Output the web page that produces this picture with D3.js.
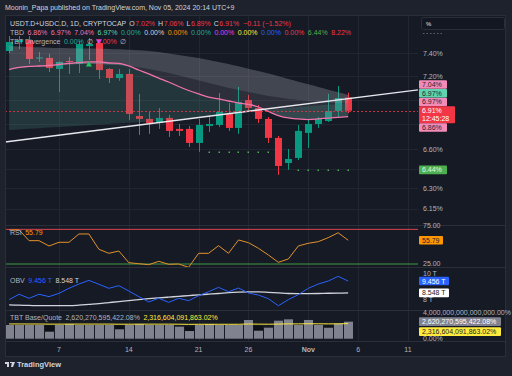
<!DOCTYPE html>
<html>
<head>
<meta charset="utf-8">
<script src="https://cdn.jsdelivr.net/npm/d3@7"></script>
<style>
  html, body { margin: 0; padding: 0; background: #1e222d; }
  svg { display: block; font-family: "Liberation Sans", Arial, sans-serif; }
</style>
</head>
<body>
<svg id="chart" width="512" height="376"></svg>
<script>
// ---- data ----
const dates = ['2024-10-02','2024-10-03','2024-10-04','2024-10-05','2024-10-06','2024-10-07','2024-10-08',
  '2024-10-09','2024-10-10','2024-10-11','2024-10-12','2024-10-13','2024-10-14','2024-10-15','2024-10-16',
  '2024-10-17','2024-10-18','2024-10-19','2024-10-20','2024-10-21','2024-10-22','2024-10-23','2024-10-24',
  '2024-10-25','2024-10-26','2024-10-27','2024-10-28','2024-10-29','2024-10-30','2024-10-31','2024-11-01',
  '2024-11-02','2024-11-03','2024-11-04','2024-11-05'];

const open  = [7.420,7.500,7.518,7.355,7.359,7.263,7.332,7.306,7.464,7.491,7.263,7.185,7.220,6.867,6.843,6.810,6.851,6.762,6.762,6.650,6.786,6.794,6.884,6.770,6.999,6.933,6.843,6.690,6.493,6.532,6.730,6.802,6.826,6.908,7.02];
const high  = [7.554,7.554,7.554,7.411,7.394,7.328,7.367,7.509,7.536,7.518,7.271,7.263,7.263,7.050,6.900,6.933,6.875,6.802,6.786,6.843,6.867,7.058,6.974,7.109,7.041,6.958,6.859,6.706,6.602,6.794,6.843,6.859,7.050,7.117,7.06];
const low   = [7.403,7.438,7.306,7.324,7.237,7.066,7.220,7.228,7.341,7.177,7.143,7.160,6.835,6.714,6.722,6.762,6.698,6.706,6.618,6.579,6.738,6.778,6.746,6.722,6.916,6.810,6.650,6.401,6.440,6.516,6.610,6.770,6.818,6.851,6.89];
const close = [7.500,7.518,7.350,7.363,7.271,7.324,7.324,7.482,7.482,7.254,7.185,7.220,6.884,6.843,6.810,6.851,6.746,6.746,6.650,6.794,6.802,6.900,6.770,6.983,6.933,6.843,6.690,6.470,6.524,6.746,6.802,6.843,6.908,7.016,6.91];

// indicator overlay (TBD)
const basis     = [7.258,7.276,7.285,7.289,7.293,7.302,7.311,7.319,7.324,7.324,7.315,7.311,7.289,7.254,7.220,7.185,7.151,7.113,7.079,7.050,7.024,7.008,6.991,6.974,6.962,6.941,6.904,6.871,6.851,6.843,6.838,6.843,6.850,6.856,6.862];
const cloudTop  = [7.465,7.460,7.456,7.453,7.450,7.447,7.445,7.443,7.442,7.440,7.438,7.435,7.432,7.427,7.420,7.411,7.398,7.385,7.372,7.359,7.341,7.324,7.306,7.286,7.266,7.245,7.223,7.200,7.177,7.154,7.132,7.109,7.086,7.064,7.041];
const cloudBot  = [7.254,7.271,7.280,7.285,7.289,7.297,7.302,7.306,7.306,7.306,7.302,7.297,7.289,7.276,7.263,7.245,7.228,7.207,7.185,7.164,7.143,7.121,7.100,7.083,7.066,7.050,7.033,7.020,7.008,6.999,6.991,6.983,6.977,6.973,6.970];
const tealLine  = [6.754,6.758,6.763,6.768,6.773,6.778,6.782,6.787,6.792,6.797,6.802,6.807,6.812,6.817,6.821,6.826,6.834,6.840,6.848,6.855,6.864,6.873,6.882,6.891,6.900,6.908,6.916,6.925,6.933,6.941,6.947,6.953,6.959,6.964,6.970];

const trendDates = ['2024-10-02', '2024-11-05'];
const trendVals  = [6.662, 7.010];
const supportA = { days: ['2024-10-22','2024-10-23','2024-10-24','2024-10-25','2024-10-26','2024-10-27','2024-10-28'], value: 6.58 };
const supportB = { days: ['2024-10-31','2024-11-01','2024-11-02','2024-11-03','2024-11-04','2024-11-05'], value: 6.44 };
const markUp   = { day: '2024-10-10', value: 7.30 };
const markDown = { day: '2024-10-11', value: 7.51 };

const rsi    = [69.2,69.2,55.3,55.3,48.4,53.2,53.2,64.0,64.0,44.1,38.9,41.9,26.7,25.4,24.1,28.5,24.6,25.0,20.7,38.9,38.9,48.8,38.9,56.2,52.7,45.4,36.7,27.2,31.5,48.4,51.9,54.0,59.2,65.6,55.79];
const obv    = [8.03,8.44,8.13,8.44,8.26,8.51,8.90,9.23,9.51,9.21,8.90,9.10,8.69,8.26,7.85,8.13,7.82,8.13,7.95,8.33,8.64,8.97,8.64,8.92,8.54,8.38,8.10,7.56,8.03,8.41,8.90,9.23,9.46,9.82,9.456];
const obvMa  = [7.62,7.60,7.58,7.56,7.56,7.56,7.56,7.60,7.66,7.72,7.80,7.88,7.95,8.03,8.10,8.16,8.22,8.28,8.34,8.40,8.45,8.50,8.56,8.60,8.62,8.62,8.59,8.55,8.50,8.49,8.49,8.50,8.52,8.53,8.548];

// TBT Base/Quote panel (scaled units)
const baseBars  = [2.11,2.11,2.11,2.11,1.08,2.11,2.26,2.11,2.11,2.11,2.11,1.45,2.11,2.26,2.11,2.11,2.11,1.85,1.18,2.11,2.26,2.11,2.11,2.11,2.88,1.23,1.69,2.77,2.98,2.11,2.88,2.11,1.69,2.30,2.62];
const quoteBars = [0,0,0,0,2.00,0,0,0,0,0,0,2.00,0,0,0,0,0,0,1.85,0,0,0,0,0,0,1.95,0,0,0,0,0,0,1.95,0,0];
const quoteLine = [2.27,2.27,2.26,2.26,2.24,2.24,2.25,2.25,2.25,2.25,2.25,2.23,2.23,2.24,2.24,2.24,2.24,2.23,2.21,2.22,2.22,2.22,2.22,2.22,2.26,2.24,2.23,2.25,2.28,2.28,2.30,2.29,2.28,2.29,2.32];

const priceTicks = [7.40, 7.20, 7.00, 6.80, 6.60, 6.45, 6.30, 6.15];
const rsiTicks   = [75, 50, 25];
const obvTicks   = [10, 8];
const volTicks   = [[4, '4,000,000,000,000,000.00%'], [0, '0.00%']];
const timeTicks  = [['2024-10-07','7'],['2024-10-14','14'],['2024-10-21','21'],['2024-10-26','26'],
                    ['2024-11-01','Nov'],['2024-11-06','6'],['2024-11-11','11']];

// ---- layout ----
const svg = d3.select('#chart');
const plotL = 5, plotR = 418, frameR = 506;
const P = { main: [15, 225], rsi: [225, 267], obv: [267, 310], vol: [310, 341] };
const axisBottom = 357;

const C = {
  bg: '#161a25', grid: '#222633', sep: '#2a2e39', text: '#b2b5be', bright: '#d1d4dc',
  up: '#089981', down: '#f23645', pink: '#f173ac', teal: '#5fd3b0'
};

const parse = d3.utcParse('%Y-%m-%d');
const D = dates.map(parse);
const idx = d3.range(dates.length);

const x = d3.scaleUtc()
  .domain([parse('2024-10-07'), parse('2024-11-11')])
  .range([59, 408]);
const y = d3.scaleLog().domain([6.15, 7.40]).range([208.5, 53.3]);
const yR = d3.scaleLinear().domain([25, 75]).range([264, 225.5]);
const yO = d3.scaleLinear().domain([8, 10]).range([300, 274]);
const yV = d3.scaleLinear().domain([0, 4]).range([338.7, 312.7]);

// chart background
svg.append('rect').attr('x', plotL).attr('y', 15).attr('width', frameR - plotL).attr('height', axisBottom - 15)
  .attr('fill', C.bg);

// clip paths per panel
Object.entries(P).forEach(([k, [t, b]]) => {
  svg.append('clipPath').attr('id', 'clip-' + k)
    .append('rect').attr('x', plotL).attr('y', t).attr('width', plotR - plotL).attr('height', b - t);
});

// vertical grid
svg.append('g').selectAll('line').data(timeTicks).join('line')
  .attr('x1', d => Math.round(x(parse(d[0]))) + 0.5).attr('x2', d => Math.round(x(parse(d[0]))) + 0.5)
  .attr('y1', 15).attr('y2', P.vol[1])
  .attr('stroke', C.grid);

// horizontal grid, main
svg.append('g').selectAll('line').data(priceTicks).join('line')
  .attr('x1', plotL).attr('x2', plotR)
  .attr('y1', d => Math.round(y(d)) + 0.5).attr('y2', d => Math.round(y(d)) + 0.5)
  .attr('stroke', C.grid);

// ---- main panel ----
const main = svg.append('g').attr('clip-path', 'url(#clip-main)');
const bw = 7;
const colorOf = i => close[i] >= open[i] ? C.up : C.down;

main.append('g').selectAll('line').data(idx).join('line')
  .attr('x1', i => Math.round(x(D[i])) + 0.5).attr('x2', i => Math.round(x(D[i])) + 0.5)
  .attr('y1', i => y(high[i])).attr('y2', i => y(low[i]))
  .attr('stroke', colorOf);

main.append('g').selectAll('rect').data(idx).join('rect')
  .attr('x', i => Math.round(x(D[i])) - 3)
  .attr('width', bw)
  .attr('y', i => Math.min(y(open[i]), y(close[i])))
  .attr('height', i => Math.max(1, Math.abs(y(open[i]) - y(close[i]))))
  .attr('fill', colorOf);

// cloud fills drawn over candles
const band = (a, b) => d3.area().curve(d3.curveMonotoneX)
  .x(i => x(D[i])).y0(i => y(a[i])).y1(i => y(b[i]));
main.append('path').datum(idx).attr('d', band(cloudBot, cloudTop))
  .attr('fill', '#a3a6ae').attr('fill-opacity', 0.32);
main.append('path').datum(idx).attr('d', band(basis, cloudBot))
  .attr('fill', '#8a8d96').attr('fill-opacity', 0.2);
main.append('path').datum(idx).attr('d', band(tealLine, basis))
  .attr('fill', '#4a8a84').attr('fill-opacity', 0.25);

main.append('path').datum(idx)
  .attr('d', d3.line().curve(d3.curveMonotoneX).x(i => x(D[i])).y(i => y(basis[i])))
  .attr('fill', 'none').attr('stroke', C.pink).attr('stroke-width', 1.3);

// trend line, extended to both edges
{
  const x1 = x(parse(trendDates[0])), y1 = y(trendVals[0]);
  const x2 = x(parse(trendDates[1])), y2 = y(trendVals[1]);
  const k = (y2 - y1) / (x2 - x1);
  main.append('line')
    .attr('x1', plotL).attr('y1', y1 + k * (plotL - x1))
    .attr('x2', plotR).attr('y2', y1 + k * (plotR - x1))
    .attr('stroke', '#e6e8ee').attr('stroke-width', 1.4);
}

// last price line
const last = close.length - 1;
main.append('line')
  .attr('x1', plotL).attr('x2', plotR)
  .attr('y1', Math.round(y(close[last])) + 0.5).attr('y2', Math.round(y(close[last])) + 0.5)
  .attr('stroke', C.down).attr('stroke-opacity', 0.8).attr('stroke-dasharray', '2,2');

// support dots
[supportA, supportB].forEach(s => {
  main.append('g').selectAll('rect').data(s.days).join('rect')
    .attr('x', d => Math.round(x(parse(d))) - 0.5).attr('y', Math.round(y(s.value)) - 0.5)
    .attr('width', 1.5).attr('height', 1.5).attr('fill', '#4caf50');
});

// divergence markers
main.append('path')
  .attr('d', d3.symbol(d3.symbolTriangle).size(16)())
  .attr('transform', `translate(${x(parse(markUp.day))},${y(markUp.value)})`)
  .attr('fill', '#22c55e');
main.append('path')
  .attr('d', d3.symbol(d3.symbolTriangle).size(16)())
  .attr('transform', `translate(${x(parse(markDown.day))},${y(markDown.value)}) rotate(180)`)
  .attr('fill', '#d64ae8');

// ---- RSI panel ----
const rsiG = svg.append('g').attr('clip-path', 'url(#clip-rsi)');
rsiG.append('line').attr('x1', plotL).attr('x2', plotR)
  .attr('y1', yR(70)).attr('y2', yR(70)).attr('stroke', '#d84452');
rsiG.append('line').attr('x1', plotL).attr('x2', plotR)
  .attr('y1', yR(25)).attr('y2', yR(25)).attr('stroke', '#3f9b45');
rsiG.append('path').datum(idx)
  .attr('d', d3.line().x(i => x(D[i])).y(i => yR(rsi[i])))
  .attr('fill', 'none').attr('stroke', '#e3922a').attr('stroke-width', 1);

// ---- OBV panel ----
const obvG = svg.append('g').attr('clip-path', 'url(#clip-obv)');
obvG.append('path').datum(idx)
  .attr('d', d3.line().curve(d3.curveMonotoneX).x(i => x(D[i])).y(i => yO(obvMa[i])))
  .attr('fill', 'none').attr('stroke', '#d1d4dc').attr('stroke-width', 1.3);
obvG.append('path').datum(idx)
  .attr('d', d3.line().x(i => x(D[i])).y(i => yO(obv[i])))
  .attr('fill', 'none').attr('stroke', '#2962ff').attr('stroke-width', 1);

// ---- Base/Quote panel ----
const volG = svg.append('g').attr('clip-path', 'url(#clip-vol)');
const barW = 9;
volG.append('g').selectAll('rect').data(idx.filter(i => quoteBars[i] > 0)).join('rect')
  .attr('x', i => Math.round(x(D[i])) - 4).attr('width', barW)
  .attr('y', i => yV(quoteBars[i])).attr('height', i => yV(0) - yV(quoteBars[i]))
  .attr('fill', '#0e1016');
volG.append('g').selectAll('rect').data(idx).join('rect')
  .attr('x', i => Math.round(x(D[i])) - 4).attr('width', barW)
  .attr('y', i => yV(baseBars[i])).attr('height', i => yV(0) - yV(baseBars[i]))
  .attr('fill', '#80838f');
volG.append('path').datum(idx)
  .attr('d', d3.line().x(i => x(D[i])).y(i => yV(quoteLine[i])))
  .attr('fill', 'none').attr('stroke', '#ffeb3b').attr('stroke-width', 1);

// panel separators
[P.main[1], P.rsi[1], P.obv[1], P.vol[1]].forEach(v => {
  svg.append('line').attr('x1', plotL).attr('x2', frameR)
    .attr('y1', v + 0.5).attr('y2', v + 0.5).attr('stroke', C.sep);
});
svg.append('rect').attr('x', plotL + 0.5).attr('y', 15.5)
  .attr('width', frameR - plotL - 1).attr('height', axisBottom - 16)
  .attr('fill', 'none').attr('stroke', C.sep);

// ---- value tags on the price scale (positions first, so ticks under them are hidden) ----
const cLast = y(close[last]);
const tags = [
  { cy: cLast - 8.8,        txt: cloudBot[last].toFixed(2) + '%', bg: '#f38bb8', fg: '#2a1f28', w: 28 },
  { cy: cLast - 17.5,       txt: tealLine[last].toFixed(2) + '%', bg: C.teal, fg: '#12302a', w: 28 },
  { cy: cLast - 26.2,       txt: cloudTop[last].toFixed(2) + '%', bg: '#f38bb8', fg: '#2a1f28', w: 28 },
  { cy: cLast,              txt: close[last].toFixed(2) + '%', bg: C.down, fg: '#ffffff', w: 36, sub: '12:45:28' },
  { cy: cLast + 16.8,       txt: basis[last].toFixed(2) + '%', bg: '#f38bb8', fg: '#2a1f28', w: 28 },
  { cy: y(supportB.value),  txt: supportB.value.toFixed(2) + '%', bg: '#4caf50', fg: '#e8f5e9', w: 28 },
  { cy: yR(rsi[last]),      txt: rsi[last].toFixed(2), bg: '#ff9800', fg: '#1e222d', w: 24 },
  { cy: yO(obv[last]),      txt: obv[last].toFixed(3) + ' T', bg: '#2962ff', fg: '#ffffff', w: 30 },
  { cy: yO(obvMa[last]),    txt: obvMa[last].toFixed(3) + ' T', bg: '#ffffff', fg: '#1e222d', w: 30 },
  { cy: yV(baseBars[last]), txt: '2,620,270,595,422.08%', bg: '#80838f', fg: '#ffffff', w: 82 },
  { cy: yV(baseBars[last]) + 10, txt: '2,316,604,091,863.02%', bg: '#ffeb3b', fg: '#1e222d', w: 82 }
];
tags.forEach(t => {
  t.h = t.sub ? 17 : 8.6;
  t.top = t.sub ? t.cy - 4.5 : t.cy - t.h / 2;
});
const hidden = yy => tags.some(t => yy >= t.top - 2 && yy <= t.top + t.h + 2);

// ---- axis tick labels ----
const axisText = (yy, txt) => {
  if (hidden(yy)) return;
  svg.append('text')
    .attr('x', 423).attr('y', yy).attr('dy', '0.35em')
    .attr('fill', C.text).attr('font-size', 7).text(txt);
};
priceTicks.forEach(v => axisText(y(v), v.toFixed(2) + '%'));
rsiTicks.forEach(v => axisText(yR(v), v.toFixed(2)));
obvTicks.forEach(v => axisText(yO(v), v + ' T'));
volTicks.forEach(([v, t]) => axisText(yV(v), t));

svg.append('g').selectAll('text').data(timeTicks).join('text')
  .attr('x', d => x(parse(d[0]))).attr('y', 350).attr('dy', '0.35em')
  .attr('text-anchor', 'middle').attr('fill', C.text).attr('font-size', 7)
  .attr('font-weight', d => d[1] === 'Nov' ? 'bold' : null)
  .text(d => d[1]);

tags.forEach(t => {
  svg.append('rect').attr('x', 419).attr('y', t.top).attr('width', t.w).attr('height', t.h)
    .attr('rx', 1).attr('fill', t.bg);
  svg.append('text').attr('x', 422).attr('y', t.cy).attr('dy', '0.35em')
    .attr('fill', t.fg).attr('font-size', 7).text(t.txt);
  if (t.sub) svg.append('text').attr('x', 422).attr('y', t.cy + 8).attr('dy', '0.35em')
    .attr('fill', t.fg).attr('font-size', 7).text(t.sub);
});

// "%" button in the price scale corner
svg.append('rect').attr('x', 421.5).attr('y', 17.5).attr('width', 83).attr('height', 12)
  .attr('rx', 2).attr('fill', '#131722').attr('stroke', '#2a2e39');
svg.append('text').attr('x', 426).attr('y', 23.5).attr('dy', '0.35em')
  .attr('fill', C.text).attr('font-size', 6).attr('font-weight', 'bold').text('%');
svg.append('line').attr('x1', 423).attr('x2', 443).attr('y1', 33.5).attr('y2', 33.5)
  .attr('stroke', '#5d606b').attr('stroke-dasharray', '1.5,2');

// ---- legends ----
function legendRow(yy, items, x0 = 10) {
  let cx = x0;
  items.forEach(([txt, col, gap]) => {
    const t = svg.append('text').attr('x', cx).attr('y', yy).attr('dy', '0.35em')
      .attr('fill', col).attr('font-size', 7).text(txt);
    cx += t.node().getComputedTextLength() + (gap === undefined ? 3.5 : gap);
  });
}
svg.append('text').attr('x', 5).attr('y', 8).attr('dy', '0.35em')
  .attr('fill', C.bright).attr('font-size', 7)
  .text('Moonin_Papa published on TradingView.com, Nov 05, 2024 20:14 UTC+9');

const red = C.down;
legendRow(24, [
  ['USDT.D+USDC.D, 1D, CRYPTOCAP', C.bright, 3],
  ['O', C.bright, 0.5], ['7.02%', red, 3],
  ['H', C.bright, 0.5], ['7.06%', red, 3],
  ['L', C.bright, 0.5], ['6.89%', red, 3],
  ['C', C.bright, 0.5], ['6.91%', red, 4],
  ['\u22120.11 (\u22121.52%)', red]
]);
legendRow(33, [
  ['TBD', C.text], ['6.86%', C.pink], ['6.97%', C.pink], ['7.04%', C.pink], ['6.97%', C.teal],
  ['0.00%', '#22ab94'], ['0.00%', C.bright], ['0.00%', '#ff9800'], ['0.00%', '#22ab94'],
  ['0.00%', '#e040fb'], ['0.00%', '#ffeb3b'], ['0.00%', '#2962ff'], ['0.00%', red],
  ['6.44%', '#4caf50'], ['8.22%', red]
]);
legendRow(42, [
  ['TBT Divergence', C.text], ['0.00%', '#22ab94'], ['\u2205', C.text], ['0.00%', red], ['\u2205', C.text]
]);
legendRow(233, [['RSI', C.text], ['55.79', '#ff9800']]);
legendRow(281, [['OBV', C.text], ['9.456 T', '#2962ff'], ['8.548 T', C.bright]]);
legendRow(318, [['TBT Base/Quote', C.text], ['2,620,270,595,422.08%', C.text], ['2,316,604,091,863.02%', '#ffeb3b']]);

// TradingView mark
const logo = svg.append('g').attr('transform', 'translate(5,362)');
logo.append('path').attr('d', 'M0,0 H4 V5 H2 V2 H0 Z M5,0 H7 V1 H5 Z M7,0 H10 L8,5 H6 Z')
  .attr('fill', C.bright);
svg.append('text').attr('x', 17).attr('y', 366.5).attr('fill', C.bright)
  .attr('font-size', 7.5).attr('font-weight', 'bold').text('TradingView');
</script>
</body>
</html>
